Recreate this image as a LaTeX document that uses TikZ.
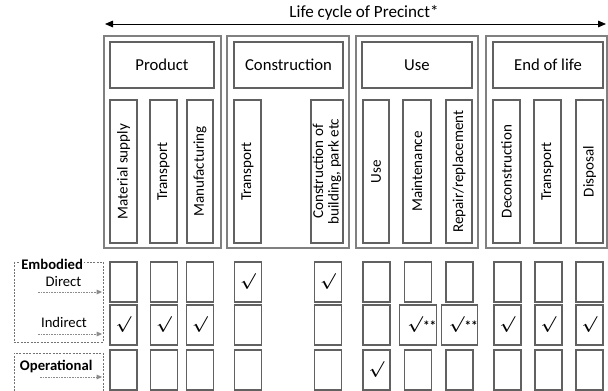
\documentclass[tikz,border=0pt]{standalone}
\usepackage{fontspec}
\setmainfont{Carlito}
\usetikzlibrary{arrows.meta}
\newcommand\bx[7]{%
  \pgfmathsetmacro\bxcx{(#2+#4)/2}\pgfmathsetmacro\bxcy{(#3+#5)/2}%
  \pgfmathsetmacro\bxw{(#4-#2)*0.75}\pgfmathsetmacro\bxh{(#5-#3)*0.75}%
  \node[#6,minimum width=\bxw pt,minimum height=\bxh pt] (#1) at (\bxcx,\bxcy) {#7};}
\newcommand\cl[4]{%
  \pgfmathsetmacro\bxcx{(#2+#3)/2}\pgfmathsetmacro\bxw{(#3-#2)*0.75}%
  \node[colbox,minimum width=107.25pt,minimum height=\bxw pt] (#1) at (\bxcx,171.5) {#4};}
\newcommand\cel[4]{%
  \node[cell] (#1) at (#2,#3) {#4};}
\newcommand\ck{{\boldmath$\surd$}}
\newcommand\ckk{\hspace*{6pt}{\boldmath$\surd$}\raisebox{-1.5pt}{\bfseries\fontsize{10}{10}\selectfont **}}
\begin{document}
\begin{tikzpicture}[x=0.75pt,y=-0.75pt,
  frame/.style={draw=black!62, line width=0.9pt, inner sep=0pt, outer sep=0pt},
  outer/.style={draw=black!50, line width=0.9pt, inner sep=0pt, outer sep=0pt},
  head/.style={frame, font=\fontsize{12.5}{14}\selectfont},
  colbox/.style={frame, rotate=90, align=center, font=\fontsize{11.3}{11.5}\selectfont},
  cell/.style={frame, minimum width=20.25pt, minimum height=30pt, font=\fontsize{11.5}{12}\selectfont},
  lab/.style={font=\fontsize{11}{12}\selectfont, inner sep=0pt, outer sep=0pt},
  blab/.style={font=\fontsize{11}{12}\selectfont\bfseries, inner sep=0pt, outer sep=0pt},
  dashbox/.style={draw=black!55, line width=0.7pt, dash pattern=on 1.5pt off 1pt},
  flow/.style={draw=black!45, line width=0.7pt, dash pattern=on 1.2pt off 0.8pt, -{Triangle[length=4pt,width=3.5pt]}},
  cycle/.style={draw=black, line width=0.6pt, {Triangle[length=6pt,width=5pt]}-{Triangle[length=6pt,width=5pt]}},
]
\useasboundingbox (0,0) rectangle (608,391);

% life cycle arrow
\coordinate (lcL) at (105,24);
\coordinate (lcR) at (606,24);
\draw[cycle] (lcL) -- (lcR);
\node[font=\fontsize{12.8}{14}\selectfont, inner sep=0pt] (lctext) at (364,13) {Life cycle of Precinct*};

% outer stage boxes
\bx{oP}{104}{36}{221}{248}{outer}{}
\bx{oC}{227}{36}{349}{248}{outer}{}
\bx{oU}{356}{36}{478}{248}{outer}{}
\bx{oE}{486}{36}{607}{248}{outer}{}

% headers
\bx{hP}{110}{42}{214}{88}{head}{Product}
\bx{hC}{234}{42}{343}{88}{head}{Construction}
\bx{hU}{362}{42}{472}{88}{head}{Use}
\bx{hE}{493}{42}{603}{88}{head}{End of life}

% columns
\cl{c1}{110}{137}{Material supply}
\cl{c2}{150}{177}{Transport}
\cl{c3}{187}{213}{Manufacturing}
\cl{c4}{234}{261}{Transport}
\cl{c5}{311}{343}{Construction of\\building, park etc}
\cl{c6}{363}{389}{Use}
\cl{c7}{403}{431}{Maintenance}
\cl{c8}{446}{472}{Repair/replacement}
\cl{c9}{493}{520}{Deconstruction}
\cl{c10}{534}{561}{Transport}
\cl{c11}{576}{603}{Disposal}

% grid row 1 (Embodied direct)
\cel{a1}{123.5}{282}{}
\cel{a2}{164}{282}{}
\cel{a3}{200}{282}{}
\cel{a4}{248}{282}{\ck}
\cel{a5}{328}{282}{\ck}
\cel{a6}{376.5}{282}{}
\cel{a7}{418}{282}{}
\cel{a8}{459.5}{282}{}
\cel{a9}{507.5}{282}{}
\cel{a10}{548.5}{282}{}
\cel{a11}{589.5}{282}{}
% grid row 2 (Embodied indirect)
\cel{b1}{123.5}{325}{\ck}
\cel{b2}{164}{325}{\ck}
\cel{b3}{200}{325}{\ck}
\cel{b4}{248}{325}{}
\cel{b5}{328}{325}{}
\cel{b6}{376.5}{325}{}
\cel{b7}{418}{325}{\ckk}
\cel{b8}{459.5}{325}{\ckk}
\cel{b9}{507.5}{325}{\ck}
\cel{b10}{548.5}{325}{\ck}
\cel{b11}{589.5}{325}{\ck}
% grid row 3 (Operational)
\cel{o1}{123.5}{370}{}
\cel{o2}{164}{370}{}
\cel{o3}{200}{370}{}
\cel{o4}{248}{370}{}
\cel{o5}{328}{370}{}
\cel{o6}{376.5}{370}{\raisebox{-4pt}{\ck}}
\cel{o7}{418}{370}{}
\cel{o8}{459.5}{370}{}
\cel{o9}{507.5}{370}{}
\cel{o10}{548.5}{370}{}
\cel{o11}{589.5}{370}{}

% legend
\draw[dashbox] (14,262) rectangle (103,342);
\draw[dashbox] (14,391) -- (14,353) -- (103,353) -- (103,391);
\node[blab, fill=white, inner xsep=1pt, inner ysep=1pt, anchor=west] (emb) at (20,264) {Embodied};
\node[lab] (dir) at (63.5,282) {Direct};
\node[lab] (ind) at (64,322) {Indirect};
\node[blab, anchor=west] (opl) at (20,367) {Operational};
\coordinate (fD) at (38,292);
\coordinate (tD) at (102,292);
\coordinate (fI) at (38,334);
\coordinate (tI) at (102,334);
\coordinate (fO) at (40,377);
\coordinate (tO) at (102,377);
\draw[flow] (fD) -- (tD);
\draw[flow] (fI) -- (tI);
\draw[flow] (fO) -- (tO);
\end{tikzpicture}
\end{document}
